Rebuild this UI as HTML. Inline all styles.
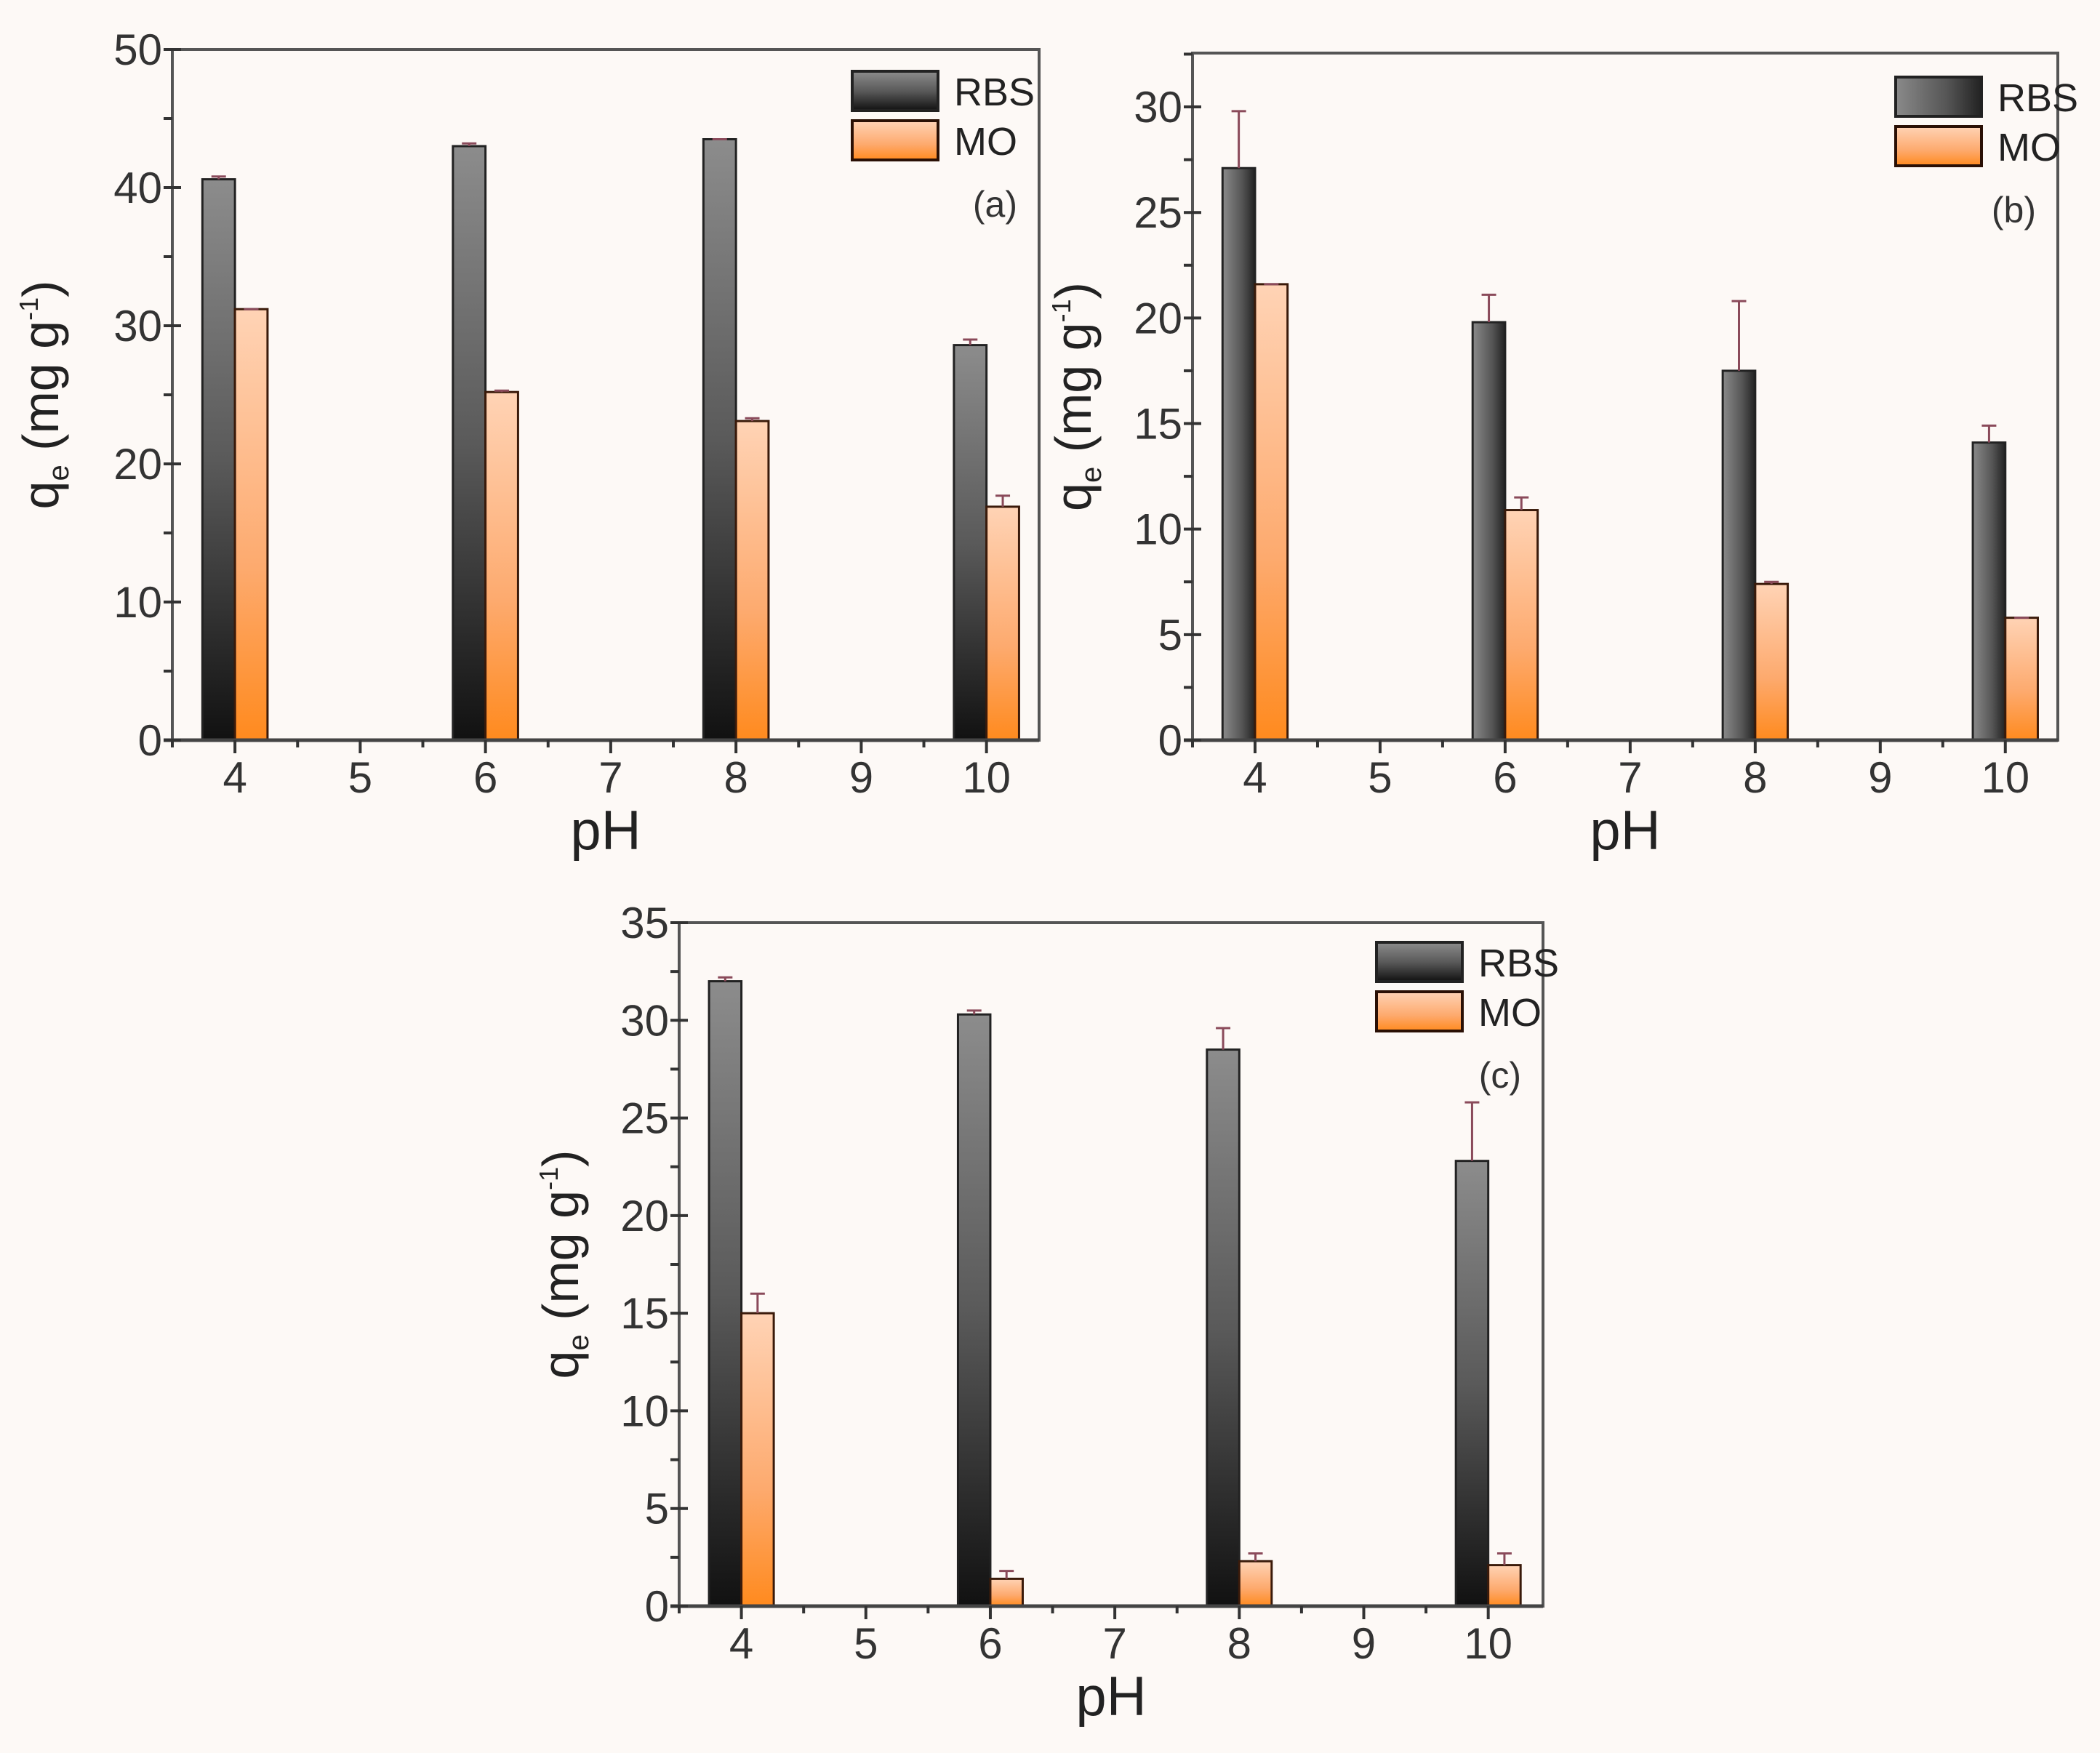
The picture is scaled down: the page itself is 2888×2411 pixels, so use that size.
<!DOCTYPE html>
<html><head><meta charset="utf-8"><style>
html,body{margin:0;padding:0;background:#fdf9f6;}
svg{display:block;font-family:"Liberation Sans","DejaVu Sans",sans-serif;}
</style></head><body>
<svg id="fig" width="2888" height="2411" viewBox="0 0 2888 2411" xmlns="http://www.w3.org/2000/svg">
<defs>
<linearGradient id="gRBS" x1="0" y1="0" x2="0" y2="1"><stop offset="0" stop-color="#8c8c8c"/><stop offset="0.5" stop-color="#5a5a5a"/><stop offset="1" stop-color="#111"/></linearGradient>
<linearGradient id="gMO" x1="0" y1="0" x2="0" y2="1"><stop offset="0" stop-color="#ffd3b5"/><stop offset="0.6" stop-color="#fdaa6e"/><stop offset="1" stop-color="#ff8a1e"/></linearGradient>
<linearGradient id="gRBSh" x1="0" y1="0" x2="1" y2="0"><stop offset="0" stop-color="#8a8a8a"/><stop offset="0.6" stop-color="#555"/><stop offset="1" stop-color="#222"/></linearGradient>
</defs>
<rect width="2888" height="2411" fill="#fdf9f6"/>
</svg>
<script>
const phCats = [4, 6, 8, 10];
const xTickLabels = ["4","5","6","7","8","9","10"];
const aRBS = [40.6, 43.0, 43.5, 28.6];
const aRBSerr = [0.2, 0.2, 0.0, 0.4];
const aMO = [31.2, 25.2, 23.1, 16.9];
const aMOerr = [0.0, 0.1, 0.2, 0.8];
const aYTicks = [0, 10, 20, 30, 40, 50];
const bRBS = [27.1, 19.8, 17.5, 14.1];
const bRBSerr = [2.7, 1.3, 3.3, 0.8];
const bMO = [21.6, 10.9, 7.4, 5.8];
const bMOerr = [0.0, 0.6, 0.1, 0.0];
const bYTicks = [0, 5, 10, 15, 20, 25, 30];
const cRBS = [32.0, 30.3, 28.5, 22.8];
const cRBSerr = [0.2, 0.2, 1.1, 3.0];
const cMO = [15.0, 1.4, 2.3, 2.1];
const cMOerr = [1.0, 0.4, 0.4, 0.6];
const cYTicks = [0, 5, 10, 15, 20, 25, 30, 35];

const NS = "http://www.w3.org/2000/svg";
const svg = document.getElementById('fig');
function mk(tag, attrs, parent, txt){
  const e = document.createElementNS(NS, tag);
  for (const k in attrs) e.setAttribute(k, attrs[k]);
  if (txt !== undefined) e.textContent = txt;
  (parent||svg).appendChild(e);
  return e;
}

function panel(p){
  const g = mk('g', {});
  
  
  const xs = v => p.L + (v - 3.5) / (p.xmax - 3.5) * (p.R - p.L);
  const ys = v => p.B - v / p.ymax * (p.B - p.T);
  const frame = mk('rect', {x:p.L, y:p.T, width:p.R-p.L, height:p.B-p.T, fill:'none', stroke:'#555', 'stroke-width':4}, g);
  
  
  const bw = 0.26 * (p.R - p.L) / (p.xmax - 3.5);
  phCats.forEach((c, i) => {
    const x0 = xs(c);
    const r = mk('rect', {x:x0-bw, y:ys(p.rbs[i]), width:bw, height:p.B-ys(p.rbs[i]), fill:p.rbsFill, stroke:'#222', 'stroke-width':3}, g);
    
    
    const m = mk('rect', {x:x0, y:ys(p.mo[i]), width:bw, height:p.B-ys(p.mo[i]), fill:'url(#gMO)', stroke:'#3a1a0a', 'stroke-width':3}, g);
    
    
    [[x0-bw/2, p.rbs[i], p.rbsErr[i], 'rbs'], [x0+bw/2, p.mo[i], p.moErr[i], 'mo']].forEach(([cx, v, e, s]) => {
      const eb = mk('path', {d:`M${cx},${ys(v)}V${ys(v+e)}M${cx-10},${ys(v+e)}H${cx+10}`, stroke:'#8a4a5a', 'stroke-width':3, fill:'none'}, g);
      
      
    });
  });
  mk('line', {x1:p.L-12, y1:p.B, x2:p.R, y2:p.B, stroke:'#444', 'stroke-width':5}, g);
  for (let v = 3.5; v <= p.xmax + 0.01; v += 0.5) {
    const major = Math.abs(v - Math.round(v)) < 0.01;
    mk('line', {x1:xs(v), y1:p.B, x2:xs(v), y2:p.B + (major ? 18 : 10), stroke:'#333', 'stroke-width':4}, g);
  }
  xTickLabels.forEach((t, i) => {
    const tl = mk('text', {x:xs(4+i), y:p.B+72, 'font-size':60, 'text-anchor':'middle', fill:'#333'}, g, t);
    
    
  });
  const step = p.yt[1] - p.yt[0];
  for (let v = 0; v <= p.ymax + 0.01; v += step / 2) {
    mk('line', {x1:p.L-12, y1:ys(v), x2:p.L+ (Math.abs(v % step) < 0.01 ? 12 : 0), y2:ys(v), stroke:'#333', 'stroke-width':4}, g);
  }
  p.yt.forEach(t => {
    const tl = mk('text', {x:p.L-14, y:ys(t)+21, 'font-size':60, 'text-anchor':'end', fill:'#333'}, g, String(t));
    
    
  });
  const xt = mk('text', {x:(p.L+p.R)/2, y:p.B+150, 'font-size':76, 'text-anchor':'middle', fill:'#222'}, g, 'pH');
  
  
  const yt = mk('text', {transform:`translate(${p.yl},${(p.T+p.B)/2}) rotate(-90)`, 'font-size':70, 'text-anchor':'middle', fill:'#222'}, g);
  
  
  mk('tspan', {}, yt, 'q');
  mk('tspan', {'font-size':40, dy:14}, yt, 'e');
  mk('tspan', {dy:-14}, yt, ' (mg g');
  mk('tspan', {'font-size':36, dy:-28}, yt, '-1');
  mk('tspan', {dy:28}, yt, ')');
  const lg = mk('g', {}, g);
  
  
  const lb1 = mk('rect', {x:p.lx, y:p.ly, width:118, height:54, fill:p.rbsFill, stroke:'#222', 'stroke-width':4}, lg);
  
  
  const lb2 = mk('rect', {x:p.lx, y:p.ly+68, width:118, height:54, fill:'url(#gMO)', stroke:'#2a1005', 'stroke-width':4}, lg);
  
  
  const t1 = mk('text', {x:p.lx+140, y:p.ly+47, 'font-size':54, fill:'#222'}, lg, 'RBS');
  
  
  const t2 = mk('text', {x:p.lx+140, y:p.ly+115, 'font-size':54, fill:'#222'}, lg, 'MO');
  
  
  const pl = mk('text', {x:p.R-30, y:p.ly+200, 'font-size':50, 'text-anchor':'end', fill:'#333'}, g, '(' + p.id + ')');
  
  
}

panel({id:'a', L:237, R:1429, T:68, B:1018, xmax:10.42, ymax:50, yt:aYTicks, rbs:aRBS, rbsErr:aRBSerr, mo:aMO, moErr:aMOerr, rbsFill:'url(#gRBS)', yl:80, lx:1172, ly:98});
panel({id:'b', L:1640, R:2830, T:73, B:1018, xmax:10.42, ymax:32.55, yt:bYTicks, rbs:bRBS, rbsErr:bRBSerr, mo:bMO, moErr:bMOerr, rbsFill:'url(#gRBSh)', yl:1500, lx:2607, ly:106});
panel({id:'c', L:934, R:2122, T:1269, B:2209, xmax:10.44, ymax:35, yt:cYTicks, rbs:cRBS, rbsErr:cRBSerr, mo:cMO, moErr:cMOerr, rbsFill:'url(#gRBS)', yl:795, lx:1893, ly:1296});
</script>
</body></html>
